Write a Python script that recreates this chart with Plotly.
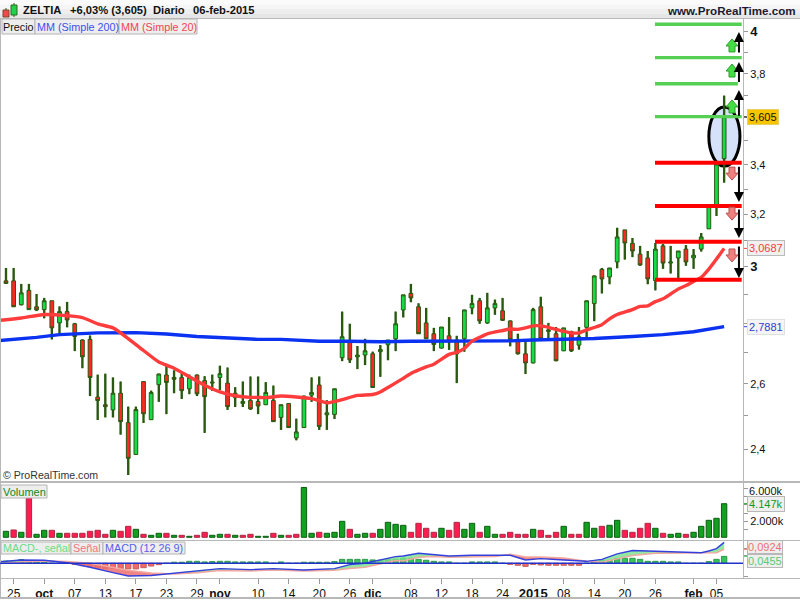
import math
import plotly.graph_objects as go

opens = [2.949,2.949,2.864,2.915,2.857,2.847,2.878,2.801,2.840,2.798,2.743,2.745,2.558,2.534,2.518,2.570,2.479,2.384,2.607,2.488,
         2.597,2.628,2.620,2.620,2.584,2.628,2.610,2.602,2.620,2.602,2.570,2.538,2.547,2.544,2.534,2.547,2.495,2.538,2.433,2.464,
         2.564,2.596,2.503,2.504,2.684,2.738,2.687,2.693,2.697,2.704,2.727,2.747,2.846,2.904,2.857,2.801,2.764,2.716,2.757,2.743,
         2.747,2.853,2.878,2.801,2.853,2.843,2.808,2.743,2.697,2.667,2.857,2.772,2.764,2.707,2.771,2.726,2.786,2.868,2.991,2.963,
         3.018,3.139,3.088,3.047,3.033,2.950,3.078,3.014,3.033,3.066,3.033,3.066,3.143,3.237,3.425]
closes = [2.940,2.857,2.906,2.847,2.846,2.878,2.784,2.840,2.811,2.755,2.687,2.620,2.547,2.528,2.570,2.482,2.373,2.519,2.506,2.572,
          2.631,2.604,2.614,2.578,2.620,2.568,2.559,2.605,2.632,2.528,2.556,2.544,2.521,2.530,2.572,2.482,2.534,2.464,2.451,2.561,
          2.572,2.467,2.509,2.584,2.754,2.677,2.693,2.707,2.588,2.711,2.743,2.798,2.899,2.888,2.764,2.747,2.728,2.787,2.737,2.697,
          2.846,2.868,2.808,2.853,2.868,2.810,2.745,2.697,2.667,2.847,2.747,2.777,2.674,2.784,2.707,2.754,2.878,2.967,2.956,2.996,
          3.112,3.089,3.059,3.007,2.956,3.066,3.014,3.018,3.059,3.018,3.043,3.112,3.233,3.403,3.605]
highs = [2.996,2.996,2.938,2.938,2.902,2.888,2.878,2.858,2.874,2.801,2.745,2.758,2.629,2.632,2.620,2.607,2.528,2.528,2.607,2.578,
         2.632,2.662,2.643,2.634,2.629,2.629,2.624,2.629,2.658,2.652,2.589,2.607,2.623,2.623,2.605,2.594,2.534,2.538,2.491,2.562,
         2.620,2.623,2.548,2.584,2.840,2.798,2.723,2.747,2.704,2.726,2.743,2.840,2.899,2.938,2.869,2.853,2.784,2.787,2.821,2.757,
         2.846,2.899,2.888,2.906,2.882,2.888,2.809,2.764,2.737,2.853,2.892,2.801,2.787,2.784,2.774,2.787,2.878,2.968,2.996,2.996,
         3.147,3.139,3.108,3.078,3.059,3.089,3.085,3.078,3.059,3.081,3.066,3.127,3.233,3.403,3.70]
lows = [2.938,2.856,2.862,2.846,2.842,2.817,2.745,2.764,2.786,2.706,2.650,2.561,2.487,2.495,2.495,2.443,2.325,2.383,2.478,2.487,
        2.543,2.505,2.570,2.552,2.567,2.561,2.448,2.577,2.580,2.518,2.527,2.527,2.518,2.505,2.533,2.481,2.457,2.463,2.426,2.463,
        2.543,2.457,2.457,2.490,2.673,2.667,2.647,2.660,2.588,2.622,2.676,2.706,2.820,2.873,2.764,2.747,2.706,2.715,2.710,2.602,
        2.704,2.831,2.798,2.798,2.829,2.808,2.722,2.695,2.631,2.666,2.747,2.745,2.673,2.706,2.703,2.711,2.750,2.807,2.904,2.937,
        2.995,3.027,3.036,3.004,2.937,2.915,2.993,2.976,2.956,3.004,2.993,3.057,3.143,3.193,3.326]

sma20_x = [-1,0,2,5,8,10,12,14,16,18,20,22,24,26,28,30,32,33,34,36,38,40,42,43,44,46,48,49,50,52,53,55,56,58,59,60,61,62,63,65,66,67,68,69,70,71,73,74,75,76,78,79,80,82,83,84,85,86,87,88,89,90,91,92,93,94]
sma20 = [2.810,2.812,2.818,2.830,2.826,2.819,2.798,2.784,2.748,2.708,2.670,2.650,2.622,2.595,2.574,2.562,2.557,2.557,2.556,2.561,2.558,2.553,2.540,2.544,2.550,2.563,2.566,2.574,2.588,2.617,2.633,2.654,2.663,2.695,2.702,2.715,2.739,2.752,2.764,2.775,2.780,2.779,2.784,2.791,2.791,2.786,2.772,2.767,2.767,2.777,2.795,2.815,2.830,2.847,2.858,2.860,2.875,2.885,2.902,2.920,2.932,2.947,2.962,2.992,3.029,3.0687]
sma200_x = [-1,0,4,7,12,17,21,25,30,33,36,41,45,49,53,58,62,66,69,73,77,82,86,90,94]
sma200 = [2.741,2.743,2.752,2.761,2.767,2.768,2.763,2.755,2.750,2.745,2.745,2.739,2.739,2.737,2.739,2.739,2.740,2.740,2.743,2.745,2.748,2.755,2.761,2.771,2.7881]

volume = [740,904,617,4900,370,863,863,493,493,493,493,740,863,370,863,740,1356,986,370,247,
          493,493,247,247,123,247,617,247,370,370,247,247,370,123,123,493,247,247,370,6150,
          493,617,493,617,1973,986,370,493,493,986,1850,1603,1480,617,1726,1110,617,1110,863,1850,
          986,1726,617,1356,370,370,617,370,370,986,863,247,617,1356,370,370,1850,1110,1356,1480,
          2096,863,617,1110,1726,1110,493,370,493,370,617,1356,2096,2343,4147]
volume_side = list("GRGRGGRGRRRRRRGRRGRGGRGRGRRGGRGRRGGRGRRGGRGGGRGGRGGGGRRRRGRRGGRGGRRRRGRRRGRRGGRGGRRRRGRGGRGGGGG")

macd_hist = [.015,.018,.024,.013,.011,.011,0,0,0,-.007,-.015,-.022,-.031,-.033,-.033,-.035,-.037,-.037,-.029,-.018,
             -.009,0,.007,.007,.013,.013,.009,.011,.013,.013,.009,.009,.009,.009,.009,0,.009,0,0,.007,
             .007,.007,.007,.011,.026,.026,.026,.026,.022,.020,.024,.026,.033,.033,.026,.020,.013,.009,.009,0,
             0,.009,.009,.009,.009,0,-.007,-.013,-.020,-.007,-.011,-.013,-.013,-.013,-.013,-.013,0,.015,.020,.020,
             .033,.033,.033,.026,.013,.013,.013,.009,.009,0,0,0,.011,.026,.0455]
macd_x = [-1,0,2,5,8,11,14,16,19,22,25,28,32,35,39,43,45,47,51,52,54,56,58,61,64,66,68,70,73,76,78,80,82,85,88,91,92,93,94]
macd_line = [.011,.013,.022,.020,.004,-.026,-.062,-.084,-.081,-.064,-.048,-.035,-.042,-.035,-.044,-.035,-.009,0,.044,.048,.066,.057,.048,.053,.053,.053,.022,.031,.022,.013,.026,.062,.084,.079,.075,.070,.081,.097,.138]
signal_line = [-.002,0,.008,.015,.011,0,-.026,-.046,-.064,-.070,-.062,-.048,-.051,-.044,-.051,-.046,-.035,-.026,.018,.015,.040,.044,.040,.044,.044,.059,.042,.042,.035,.013,.007,.029,.051,.066,.066,.070,.070,.070,.0924]

date_pos = [1,5,9,13,17,21,25,28,33,37,41,45,48,53,57,61,65,69,73,77,81,85,90,93]
date_labels = ["25","<b>oct</b>","07","13","17","23","29","<b>nov</b>","10","14","20","26","<b>dic</b>","08","12","18","24",
               "<b style='font-size:13px'>2015</b>","08","14","20","26","<b>feb</b>","05"]

green_levels = [4.038,3.876,3.754,3.606]
red_levels = [3.408,3.232,3.094,2.953]
arrows_up = [(3.893,4.0),(3.755,3.855),(3.603,3.726)]
arrows_down = [(3.398,3.248),(3.224,3.108),(3.081,2.959)]
badges_up = [3.932,3.813,3.649]
badges_down = [3.365,3.204,3.044]

FONT = "Liberation Sans"
X_RANGE = [-0.785, 96.47]
WICK = "#2a5a10"
n = len(opens)
idx = list(range(n))
px = lambda x: x / 800
py = lambda y: 1 - y / 600

fig = go.Figure()

# wicks sit beneath the candle bodies
fig.add_trace(go.Bar(x=idx, base=lows, y=[h - l for h, l in zip(highs, lows)], width=0.31,
                     marker=dict(color=WICK, line=dict(width=0)), xaxis="x", yaxis="y", showlegend=False))
fig.add_trace(go.Candlestick(x=idx, open=opens, high=highs, low=lows, close=closes, whiskerwidth=0,
                             increasing=dict(fillcolor="#14dc46", line=dict(color=WICK, width=1)),
                             decreasing=dict(fillcolor="#ff2626", line=dict(color=WICK, width=1)),
                             xaxis="x", yaxis="y", showlegend=False))
fig.add_trace(go.Scatter(x=sma200_x, y=sma200, mode="lines", line=dict(color="#0a32f0", width=3.4),
                         xaxis="x", yaxis="y", showlegend=False))
fig.add_trace(go.Scatter(x=sma20_x, y=sma20, mode="lines", line=dict(color="#ff3c3c", width=3.4, shape="spline", smoothing=0.5),
                         xaxis="x", yaxis="y", showlegend=False))

# volume
fig.add_trace(go.Bar(x=idx, y=volume, width=0.7,
                     marker=dict(color=["#12a01e" if s == "G" else "#ff1c50" for s in volume_side],
                                 line=dict(color=["#0b5e12" if s == "G" else "#a82a44" for s in volume_side], width=1)),
                     xaxis="x2", yaxis="y2", showlegend=False))

# MACD
fig.add_trace(go.Bar(x=idx, y=macd_hist, width=0.7,
                     marker=dict(color=["#36c45a" if v >= 0 else "#f06a6a" for v in macd_hist],
                                 line=dict(color=["#2b9a48" if v >= 0 else "#c85a5a" for v in macd_hist], width=1)),
                     xaxis="x3", yaxis="y3", showlegend=False))
upper = [max(m, s) for m, s in zip(macd_line, signal_line)]
lower = [min(m, s) for m, s in zip(macd_line, signal_line)]
common = dict(x=macd_x, mode="lines", line=dict(width=0), xaxis="x3", yaxis="y3", showlegend=False)
fig.add_trace(go.Scatter(y=signal_line, **common))
fig.add_trace(go.Scatter(y=upper, fill="tonexty", fillcolor="rgba(120,225,140,0.8)", **common))
fig.add_trace(go.Scatter(y=signal_line, **common))
fig.add_trace(go.Scatter(y=lower, fill="tonexty", fillcolor="rgba(236,110,110,0.85)", **common))
fig.add_trace(go.Scatter(x=macd_x, y=signal_line, mode="lines", line=dict(color="#f2a8a0", width=1.5),
                         xaxis="x3", yaxis="y3", showlegend=False))
fig.add_trace(go.Scatter(x=macd_x, y=macd_line, mode="lines", line=dict(color="#3340dd", width=1.4),
                         xaxis="x3", yaxis="y3", showlegend=False))

shapes = []
# page furniture
strips = ["#fbfbfb", "#f5f5f5", "#eeeeee", "#e6e6e6"]
for k, c in enumerate(strips):
    shapes.append(dict(type="rect", xref="paper", yref="paper", x0=0, x1=1, y0=py(k * 4.5), y1=py((k + 1) * 4.5),
                       fillcolor=c, line=dict(width=0), layer="below"))
for y0, y1 in [(18, 19), (481, 483), (540, 541), (578, 579), (597, 599)]:
    shapes.append(dict(type="rect", xref="paper", yref="paper", x0=0, x1=1, y0=py(y0), y1=py(y1),
                       fillcolor="#b8b8b8", line=dict(width=0)))
shapes.append(dict(type="rect", xref="paper", yref="paper", x0=0, x1=px(1), y0=py(18), y1=py(599),
                   fillcolor="#b8b8b8", line=dict(width=0)))
shapes.append(dict(type="rect", xref="paper", yref="paper", x0=px(743), x1=px(744), y0=py(19), y1=py(578),
                   fillcolor="#b8b8b8", line=dict(width=0)))
# logo
shapes.append(dict(type="rect", xref="paper", yref="paper", x0=px(3), x1=px(9), y0=py(10), y1=py(17),
                   fillcolor="#f04a4a", line=dict(color="#7a4a30", width=1)))
shapes.append(dict(type="rect", xref="paper", yref="paper", x0=px(11), x1=px(17), y0=py(5), y1=py(15),
                   fillcolor="#22d04a", line=dict(color="#2a6a20", width=1)))
for x0, y0, y1 in [(6, 8, 10), (14, 3, 5), (14, 15, 17)]:
    shapes.append(dict(type="line", xref="paper", yref="paper", x0=px(x0), x1=px(x0), y0=py(y0), y1=py(y1),
                       line=dict(color="#2a5a10", width=1)))
# legend boxes
for x0, x1, y0, y1 in [(2, 35, 19, 34), (35, 119, 19, 34), (119, 197, 19, 34),
                       (1, 47, 485, 498), (1, 71, 542, 554), (71, 103, 542, 554), (103, 185, 542, 554)]:
    shapes.append(dict(type="rect", xref="paper", yref="paper", x0=px(x0), x1=px(x1), y0=py(y0), y1=py(y1),
                       fillcolor="#eeeeee", line=dict(color="#b4b4b4", width=1)))

# highlight ellipse beneath the candles
shapes.append(dict(type="circle", xref="x", yref="y", x0=92.0, x1=96.07, y0=3.394, y1=3.649,
                   fillcolor="#d6e2fa", line=dict(color="#000000", width=3), layer="below"))
# levels
for k, v in enumerate(green_levels):
    shapes.append(dict(type="line", xref="x", yref="y", x0=84.95, x1=95.8 if k == 2 else 96.3, y0=v, y1=v,
                       line=dict(color="#55d055", width=3.4)))
for v in red_levels:
    shapes.append(dict(type="line", xref="x", yref="y", x0=84.95, x1=96.3, y0=v, y1=v,
                       line=dict(color="#ff0000", width=4)))
# block arrows
UP_PATH = "M-3,-6 L3,-6 L3,0 L6,0 L0,7 L-6,0 L-3,0 Z"
DOWN_PATH = "M-3,6 L3,6 L3,0 L6,0 L0,-7 L-6,0 L-3,0 Z"
for v in badges_up:
    shapes.append(dict(type="path", xsizemode="pixel", ysizemode="pixel", xref="x", yref="y", xanchor=95.03, yanchor=v,
                       path=UP_PATH, fillcolor="#44dd44", line=dict(color="#2fa02f", width=1)))
for v in badges_down:
    shapes.append(dict(type="path", xsizemode="pixel", ysizemode="pixel", xref="x", yref="y", xanchor=95.03, yanchor=v,
                       path=DOWN_PATH, fillcolor="#ee8080", line=dict(color="#b85050", width=1)))
# MACD zero line
shapes.append(dict(type="line", xref="x3", yref="y3", x0=X_RANGE[0], x1=X_RANGE[1], y0=0, y1=0,
                   line=dict(color="#2233cc", width=1.5)))
# coloured tick dashes beside the value tags
for ref, v, c in [("y", 3.605, "#111111"), ("y", 3.0687, "#f04040"), ("y", 2.7881, "#2a3fd0"),
                  ("y2", 4147, "#109a20"), ("y3", 0.0924, "#f07070"), ("y3", 0.0455, "#44cc66")]:
    shapes.append(dict(type="line", xref="paper", yref=ref, x0=px(744), x1=px(748), y0=v, y1=v, line=dict(color=c, width=1)))

ann = []
def label(x, y, text, color="#000000", size=12, anchor="left"):
    ann.append(dict(xref="paper", yref="paper", x=px(x), y=py(y), text=text, showarrow=False, xanchor=anchor,
                    yanchor="middle", font=dict(family=FONT, size=size, color=color), borderpad=0, borderwidth=0))

label(23, 10, "<b>ZELTIA</b>", "#111111", 11.2)
label(70, 10, "<b>+6,03% (3,605)</b>", "#111111", 11.2)
label(153, 10, "<b>Diario</b>", "#111111", 11.2)
label(193, 10, "<b>06-feb-2015</b>", "#111111", 11.2)
label(796, 10, "<b>www.ProRealTime.com</b>", "#1a1a30", 11.6, "right")
label(3, 27, "Precio", "#111111", 10.8)
label(37, 27, "MM (Simple 200)", "#3a50ee", 10.8)
label(121, 27, "MM (Simple 20)", "#ee4455", 10.8)
label(3, 475, "© ProRealTime.com", "#333333", 10.6)
label(3, 492, "Volumen", "#0a8a1a", 11)
label(3, 548, "MACD-, señal", "#66dd88", 10.8)
label(73, 548, "Señal", "#ee7777", 10.8)
label(105, 548, "MACD (12 26 9)", "#5560e8", 10.8)
label(749, 491, "6.000k", "#111111", 11)

def tag(ref, y, text, color, bg, border):
    ann.append(dict(xref="paper", yref=ref, x=px(747), y=y, text=text, showarrow=False, xanchor="left", yanchor="middle",
                    font=dict(family=FONT, size=11, color=color), bgcolor=bg, bordercolor=border, borderwidth=1, borderpad=1))

tag("y", math.log10(3.605), "3,605", "#111111", "#f8c400", "#e8d060")
tag("y", math.log10(3.0687), "3,0687", "#f04040", "#f0f0f0", "#bbbbbb")
tag("y", math.log10(2.7881), "2,7881", "#2a3fd0", "#f4f4f4", "#e0e0e0")
tag("y2", 4147, "4.147k", "#109a20", "#eeeeee", "#b8b8b8")
# the two MACD tags sit at fixed spots just clear of each other, as the reference nudges them apart
ann.append(dict(xref="paper", yref="paper", x=px(747), y=py(546.5), text="0,0924", showarrow=False, xanchor="left", yanchor="middle",
                font=dict(family=FONT, size=11, color="#f07070"), bgcolor="#eeeeee", bordercolor="#b8b8b8", borderwidth=1, borderpad=0))
ann.append(dict(xref="paper", yref="paper", x=px(747), y=py(561), text="0,0455", showarrow=False, xanchor="left", yanchor="middle",
                font=dict(family=FONT, size=11, color="#55cc77"), bgcolor="#eeeeee", bordercolor="#b8b8b8", borderwidth=1, borderpad=0))

for tail, head in arrows_up + arrows_down:
    ann.append(dict(xref="x", yref="y", axref="x", ayref="y", x=95.94, ax=95.94, y=math.log10(head), ay=math.log10(tail),
                    text="", showarrow=True, arrowhead=2, arrowsize=1.0, arrowwidth=2, arrowcolor="#000000"))

price_ticks = [2.4,2.5,2.6,2.7,2.8,2.9,3.0,3.1,3.2,3.3,3.4,3.5,3.6,3.7,3.8,3.9,4.0]
price_text = ["2,4","","2,6","","","","<b style='font-size:13px'>3</b>","","3,2","","3,4","","","","3,8","","<b style='font-size:13px'>4</b>"]

axis_common = dict(showgrid=False, zeroline=False, showline=False)
fig.update_layout(
    width=800, height=600, margin=dict(l=0, r=0, t=0, b=0),
    paper_bgcolor="#ffffff", plot_bgcolor="#ffffff", showlegend=False, barmode="overlay", boxgap=0.3,
    font=dict(family=FONT, size=12, color="#111111"),
    xaxis=dict(domain=[0, 743 / 800], range=X_RANGE, anchor="y", showticklabels=False, ticks="",
               rangeslider=dict(visible=False), **axis_common),
    xaxis2=dict(domain=[0, 743 / 800], range=X_RANGE, anchor="y2", showticklabels=False, ticks="", **axis_common),
    xaxis3=dict(domain=[0, 743 / 800], range=X_RANGE, anchor="y3", tickmode="array", tickvals=date_pos, ticktext=date_labels,
                ticks="outside", ticklen=5, tickcolor="#999999", tickfont=dict(family=FONT, size=12, color="#111111"), **axis_common),
    yaxis=dict(domain=[py(481), py(20)], type="log", range=[math.log10(2.308), math.log10(4.059)], side="right", anchor="x",
               tickmode="array", tickvals=price_ticks, ticktext=price_text, ticks="outside", ticklen=4, tickcolor="#999999",
               tickfont=dict(family=FONT, size=11, color="#111111"), **axis_common),
    yaxis2=dict(domain=[py(540), py(483)], range=[-333, 6704], side="right", anchor="x2", tickmode="array",
                tickvals=[1000, 2000, 3000, 4000, 5000, 6000], ticktext=["", "2.000k", "", "", "", ""],
                ticks="outside", ticklen=4, tickcolor="#999999", tickfont=dict(family=FONT, size=11, color="#111111"), **axis_common),
    yaxis3=dict(domain=[py(578), py(541)], range=[-0.097, 0.147], side="right", anchor="x3", tickmode="array",
                tickvals=[-0.09, 0.05, 0.1], ticktext=["", "", ""], ticks="outside", ticklen=4, tickcolor="#999999", **axis_common),
    shapes=shapes, annotations=ann,
)

fig.write_html("out.html", config={"displayModeBar": False},
               post_script="document.body.style.margin='0';document.body.style.overflow='hidden';")
